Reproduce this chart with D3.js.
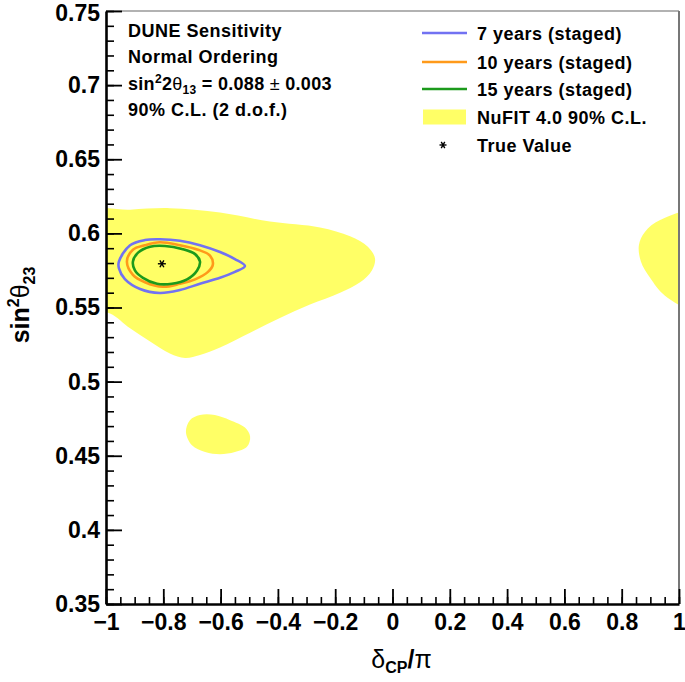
<!DOCTYPE html>
<html>
<head>
<meta charset="utf-8">
<script src="https://cdn.jsdelivr.net/npm/d3@7"></script>
<style>
  body { margin: 0; background: #fff; }
  text { font-family: "Liberation Sans", Arial, Helvetica, sans-serif; font-weight: bold; }
</style>
</head>
<body>
<div id="chart"></div>
<script>
// axis ticks
const deltaTicks = [-1, -0.8, -0.6, -0.4, -0.2, 0, 0.2, 0.4, 0.6, 0.8, 1];
const s23Ticks = [0.35, 0.4, 0.45, 0.5, 0.55, 0.6, 0.65, 0.7, 0.75];

// contours, [deltaCP/pi, sin^2 theta23]
const staged7 = [
  [-0.955, 0.581], [-0.916, 0.592], [-0.864, 0.5955], [-0.812, 0.596], [-0.742, 0.595],
  [-0.672, 0.592], [-0.602, 0.5874], [-0.55, 0.5827], [-0.515, 0.578], [-0.55, 0.574],
  [-0.602, 0.570], [-0.672, 0.566], [-0.742, 0.5618], [-0.812, 0.5598], [-0.881, 0.5625],
  [-0.934, 0.5692], [-0.955, 0.5766]
];
const staged10 = [
  [-0.927, 0.581], [-0.906, 0.589], [-0.864, 0.592], [-0.812, 0.594], [-0.742, 0.592],
  [-0.679, 0.589], [-0.637, 0.585], [-0.627, 0.579], [-0.644, 0.574], [-0.689, 0.569],
  [-0.742, 0.566], [-0.801, 0.564], [-0.864, 0.567], [-0.906, 0.572]
];
const staged15 = [
  [-0.906, 0.581], [-0.888, 0.587], [-0.846, 0.591], [-0.794, 0.5915], [-0.735, 0.5895],
  [-0.689, 0.586], [-0.672, 0.581], [-0.682, 0.575], [-0.717, 0.569], [-0.770, 0.566],
  [-0.822, 0.566], [-0.871, 0.570], [-0.899, 0.575]
];
const nufitMain = [
  [-1.06, 0.614], [-0.916, 0.616], [-0.777, 0.617], [-0.602, 0.614], [-0.428, 0.608],
  [-0.253, 0.604], [-0.148, 0.598], [-0.086, 0.591], [-0.061, 0.583], [-0.072, 0.575],
  [-0.113, 0.567], [-0.183, 0.560], [-0.288, 0.552], [-0.393, 0.543], [-0.497, 0.533],
  [-0.602, 0.523], [-0.672, 0.518], [-0.724, 0.516], [-0.777, 0.519], [-0.846, 0.527],
  [-0.916, 0.536], [-0.986, 0.546], [-1.06, 0.549]
];
const nufitIsland = [
  [-0.721, 0.466], [-0.707, 0.474], [-0.672, 0.4775], [-0.620, 0.4775], [-0.567, 0.474],
  [-0.515, 0.469], [-0.497, 0.463], [-0.508, 0.456], [-0.550, 0.4525], [-0.602, 0.451],
  [-0.654, 0.4525], [-0.700, 0.457]
];
const nufitWrap = [
  [1.06, 0.614], [0.934, 0.609], [0.881, 0.601], [0.860, 0.592], [0.867, 0.581],
  [0.899, 0.570], [0.951, 0.558], [1.06, 0.549]
];
const trueValue = [-0.805, 0.5795];

const legendLabels = ["7 years (staged)", "10 years (staged)", "15 years (staged)", "NuFIT 4.0 90% C.L.", "True Value"];
const contourColors = ["#7272f2", "#ff9a1a", "#1c9a1c"];
const nufitColor = "#ffff66";

const width = 685, height = 682;
const margin = { top: 11, right: 6, bottom: 78, left: 106 };

const svg = d3.select("#chart").append("svg")
  .attr("width", width)
  .attr("height", height);

const x = d3.scaleLinear().domain([-1, 1]).range([margin.left, width - margin.right]);
const y = d3.scaleLinear().domain([0.35, 0.75]).range([height - margin.bottom, margin.top]);

svg.append("clipPath").attr("id", "plotclip")
  .append("rect")
  .attr("x", x(-1)).attr("y", y(0.75))
  .attr("width", x(1) - x(-1)).attr("height", y(0.35) - y(0.75));

const plot = svg.append("g").attr("clip-path", "url(#plotclip)");

const closed = d3.line()
  .x(d => x(d[0]))
  .y(d => y(d[1]))
  .curve(d3.curveCatmullRomClosed.alpha(0.5));

// NuFIT allowed regions
[nufitMain, nufitIsland, nufitWrap].forEach(region => {
  plot.append("path")
    .attr("d", closed(region))
    .attr("fill", nufitColor);
});

// DUNE staged contours
[staged7, staged10, staged15].forEach((c, i) => {
  plot.append("path")
    .attr("d", closed(c))
    .attr("fill", "none")
    .attr("stroke", contourColors[i])
    .attr("stroke-width", 2.6);
});

// little asterisk marker, like ROOT's marker 3
function asterisk(g, cx, cy, r) {
  [0, 60, 120].forEach(a => {
    const dx = r * Math.cos(a * Math.PI / 180), dy = r * Math.sin(a * Math.PI / 180);
    g.append("line")
      .attr("x1", cx - dx).attr("y1", cy - dy)
      .attr("x2", cx + dx).attr("y2", cy + dy)
      .attr("stroke", "#000").attr("stroke-width", 1.4);
  });
}
asterisk(plot, x(trueValue[0]), y(trueValue[1]), 4);

// frame (top / right)
svg.append("line")
  .attr("x1", x(-1)).attr("x2", x(1))
  .attr("y1", y(0.75)).attr("y2", y(0.75))
  .attr("stroke", "#666").attr("stroke-width", 1.2);
svg.append("line")
  .attr("x1", x(1)).attr("x2", x(1))
  .attr("y1", y(0.75)).attr("y2", y(0.35))
  .attr("stroke", "#777").attr("stroke-width", 2);

// axes
const minorX = d3.range(-1, 1.0001, 0.05).map(v => +v.toFixed(2));
const minorY = d3.range(0.35, 0.7501, 0.01).map(v => +v.toFixed(2));

svg.append("g")
  .attr("transform", `translate(0,${y(0.35)})`)
  .call(d3.axisBottom(x).tickValues(minorX).tickSize(-7).tickFormat(""))
  .call(g => g.select(".domain").remove())
  .selectAll("line").attr("stroke-width", 1.6);

svg.append("g")
  .attr("transform", `translate(${x(-1)},0)`)
  .call(d3.axisLeft(y).tickValues(minorY).tickSize(-8).tickFormat(""))
  .call(g => g.select(".domain").remove())
  .selectAll("line").attr("stroke-width", 1.6);

const xAxis = svg.append("g")
  .attr("transform", `translate(0,${y(0.35)})`)
  .call(d3.axisBottom(x).tickValues(deltaTicks).tickSize(-15).tickSizeOuter(0).tickPadding(9)
    .tickFormat(d3.format("~g")));
xAxis.select(".domain").attr("stroke-width", 2.6);
xAxis.selectAll("line").attr("stroke-width", 1.8);
xAxis.selectAll("text").attr("font-size", 23).attr("fill", "#000").attr("dy", "0.72em");

const yAxis = svg.append("g")
  .attr("transform", `translate(${x(-1)},0)`)
  .call(d3.axisLeft(y).tickValues(s23Ticks).tickSize(-16).tickSizeOuter(0).tickPadding(6)
    .tickFormat(d3.format("~g")));
yAxis.select(".domain").attr("stroke-width", 2.6);
yAxis.selectAll("line").attr("stroke-width", 1.8);
yAxis.selectAll("text").attr("font-size", 23).attr("fill", "#000");
yAxis.selectAll("text").filter(d => d === 0.75).attr("dy", "0.42em");

// axis titles
const xt = svg.append("text")
  .attr("x", x(0) + 9).attr("y", 668)
  .attr("text-anchor", "middle")
  .attr("font-size", 25);
xt.append("tspan").attr("font-weight", "normal").text("δ");
xt.append("tspan").attr("font-size", 16).attr("dy", 5).text("CP");
xt.append("tspan").attr("dy", -5).text("/");
xt.append("tspan").attr("font-weight", "normal").text("π");

const yt = svg.append("text")
  .attr("transform", "translate(29,305) rotate(-90)")
  .attr("text-anchor", "middle")
  .attr("font-size", 25);
yt.append("tspan").text("sin");
yt.append("tspan").attr("font-size", 16).attr("dy", -10).text("2");
yt.append("tspan").attr("font-weight", "normal").attr("dy", 10).text("θ");
yt.append("tspan").attr("font-size", 16).attr("dy", 6).text("23");

// info text
const info = svg.append("g").attr("font-size", 18);
const infoX = 128;
info.append("text").attr("x", infoX).attr("y", 37).attr("letter-spacing", 0.5).text("DUNE Sensitivity");
info.append("text").attr("x", infoX).attr("y", 63).attr("letter-spacing", 0.5).text("Normal Ordering");
const th = info.append("text").attr("x", infoX).attr("y", 89.5).attr("letter-spacing", 0.3);
th.append("tspan").text("sin");
th.append("tspan").attr("font-size", 12).attr("dy", -7).text("2");
th.append("tspan").attr("dy", 7).text("2");
th.append("tspan").attr("font-weight", "normal").text("θ");
th.append("tspan").attr("font-size", 12).attr("dy", 4).text("13");
th.append("tspan").attr("dy", -4).text(" = 0.088 ");
th.append("tspan").attr("font-weight", "normal").text("±");
th.append("tspan").text(" 0.003");
info.append("text").attr("x", infoX).attr("y", 115.5).attr("letter-spacing", 0.5).text("90% C.L. (2 d.o.f.)");

// legend
const legY = [33, 62, 89, 117, 145];
const leg = svg.append("g").attr("font-size", 18);
legendLabels.forEach((lab, i) => {
  const cy = legY[i];
  if (i < 3) {
    leg.append("line")
      .attr("x1", 422).attr("x2", 467)
      .attr("y1", cy).attr("y2", cy)
      .attr("stroke", contourColors[i]).attr("stroke-width", 2.6);
  } else if (i === 3) {
    leg.append("rect")
      .attr("x", 423).attr("y", cy - 7.5)
      .attr("width", 43).attr("height", 15)
      .attr("fill", nufitColor);
  } else {
    asterisk(leg, 443, cy, 3.5);
  }
  leg.append("text")
    .attr("x", 477).attr("y", cy + 6.5)
    .attr("letter-spacing", 0.5)
    .text(lab);
});
</script>
</body>
</html>
